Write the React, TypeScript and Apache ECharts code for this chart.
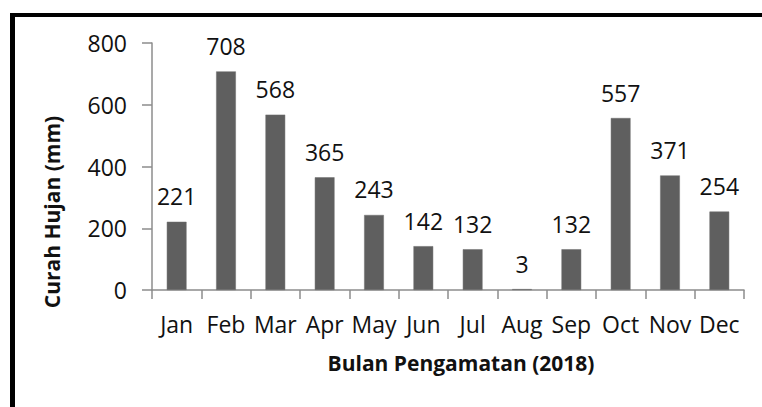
import React, { useEffect, useRef } from "react";
import * as echarts from "echarts";

const months = ["Jan", "Feb", "Mar", "Apr", "May", "Jun", "Jul", "Aug", "Sep", "Oct", "Nov", "Dec"];
const rainfall = [221, 708, 568, 365, 243, 142, 132, 3, 132, 557, 371, 254];
const yTitle = "Curah Hujan (mm)";
const xTitle = "Bulan Pengamatan (2018)";

const FONT = "'Open Sans', 'Noto Sans', sans-serif";

export default function App() {
  const ref = useRef<HTMLDivElement>(null);
  useEffect(() => {
    if (!ref.current) return;
    const chart = echarts.init(ref.current, null, { renderer: "svg" });
    chart.setOption({
      animation: false,
      backgroundColor: "#ffffff",
      grid: { left: 152, right: 18, top: 43, bottom: 117 },
      xAxis: {
        type: "category",
        data: months,
        boundaryGap: true,
        axisLine: { show: true, lineStyle: { color: "#8c8c8c", width: 1.5 } },
        axisTick: { show: true, length: 9, inside: false, lineStyle: { color: "#8c8c8c", width: 1.5 } },
        axisLabel: { color: "#111", fontFamily: FONT, fontSize: 23, margin: 22, interval: 0 },
        splitLine: { show: false },
      },
      yAxis: {
        type: "value",
        min: 0,
        max: 800,
        interval: 200,
        axisLine: { show: true, lineStyle: { color: "#8c8c8c", width: 1.5 } },
        axisTick: { show: true, length: 10, lineStyle: { color: "#8c8c8c", width: 1.5 } },
        axisLabel: { color: "#111", fontFamily: FONT, fontSize: 23, margin: 25 },
        splitLine: { show: false },
      },
      series: [
        {
          type: "bar",
          data: rainfall,
          barWidth: "40%",
          itemStyle: { color: "#5f5f5f", borderColor: "#6e6e6e", borderWidth: 0.5 },
          label: {
            show: true,
            position: "top",
            distance: 14,
            color: "#111",
            fontFamily: FONT,
            fontSize: 23,
          },
        },
      ],
      graphic: [
        { type: "rect", shape: { x: 10, y: 13, width: 752, height: 4 }, style: { fill: "#000" } },
        { type: "rect", shape: { x: 10, y: 13, width: 5, height: 394 }, style: { fill: "#000" } },
        {
          type: "text",
          x: 461,
          y: 363,
          style: {
            text: xTitle,
            fontFamily: FONT,
            fontSize: 21,
            fontWeight: "bold",
            fill: "#111",
            textAlign: "center",
            textVerticalAlign: "middle",
          },
        },
        {
          type: "text",
          x: 52,
          y: 212,
          rotation: Math.PI / 2,
          style: {
            text: yTitle,
            fontFamily: FONT,
            fontSize: 21,
            fontWeight: "bold",
            fill: "#111",
            textAlign: "center",
            textVerticalAlign: "middle",
          },
        },
      ],
    });
    return () => chart.dispose();
  }, []);
  return (
    <div
      ref={ref}
      style={{ position: "fixed", left: 0, top: 0, width: 762, height: 407 }}
    />
  );
}
